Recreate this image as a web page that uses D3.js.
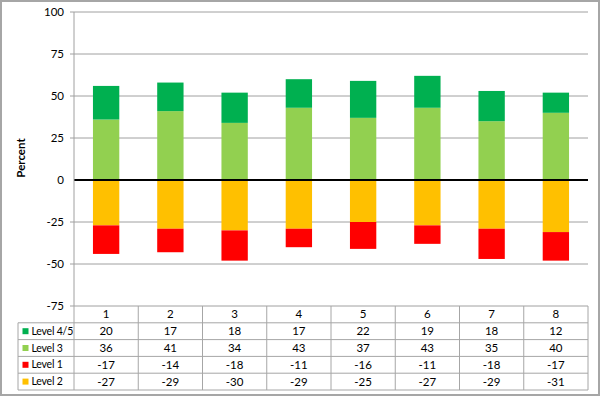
<!DOCTYPE html>
<html>
<head>
<meta charset="utf-8">
<script src="https://cdn.jsdelivr.net/npm/d3@7"></script>
<style>
  body { margin: 0; background: #fff; }
  svg text { font-family: Lato, "Noto Sans", sans-serif; fill: #000; }
</style>
</head>
<body>
<div id="chart"></div>
<script>
const categories = ["1", "2", "3", "4", "5", "6", "7", "8"];
const level45 = [20, 17, 18, 17, 22, 19, 18, 12];
const level3 = [36, 41, 34, 43, 37, 43, 35, 40];
const level1 = [-17, -14, -18, -11, -16, -11, -18, -17];
const level2 = [-27, -29, -30, -29, -25, -27, -29, -31];
const yTicks = [-75, -50, -25, 0, 25, 50, 75, 100];

const width = 600;
const height = 396;
const plotLeft = 74, plotRight = 588, plotTop = 12, plotBottom = 306;
const rowH = 16.8;

const series = [
    { name: "Level 4/5", values: level45, color: "#00B050" },
    { name: "Level 3", values: level3, color: "#92D050" },
    { name: "Level 1", values: level1, color: "#FF0000" },
    { name: "Level 2", values: level2, color: "#FFC000" }
];

const svg = d3.select("#chart").append("svg")
    .attr("width", width)
    .attr("height", height);

// outer frame
svg.append("rect")
    .attr("x", 1).attr("y", 1)
    .attr("width", width - 2).attr("height", height - 2)
    .attr("fill", "#fff").attr("stroke", "#a6a6a6").attr("stroke-width", 2);

const x = d3.scaleBand().domain(categories).range([plotLeft, plotRight]);
const y = d3.scaleLinear().domain([-75, 100]).range([plotBottom, plotTop]);

// gridlines + tick marks
svg.append("g").selectAll("line")
    .data(yTicks.filter(t => t !== 0))
    .enter().append("line")
    .attr("x1", plotLeft - 4).attr("x2", plotRight)
    .attr("y1", d => y(d)).attr("y2", d => y(d))
    .attr("stroke", "#a0a0a0").attr("stroke-width", 1);

// y tick labels
svg.append("g").selectAll("text")
    .data(yTicks)
    .enter().append("text")
    .attr("x", plotLeft - 10)
    .attr("y", d => y(d))
    .attr("dy", "0.35em")
    .attr("text-anchor", "end")
    .style("font-size", "11.5px")
    .text(d => d);

// axis title
svg.append("text")
    .attr("transform", `translate(25, ${(plotTop + plotBottom) / 2 - 1}) rotate(-90)`)
    .attr("text-anchor", "middle")
    .style("font-size", "11.5px")
    .style("font-weight", "bold")
    .text("Percent");

// stacked bars
const barW = x.bandwidth() * 0.41;
const bars = svg.append("g");
categories.forEach((c, i) => {
    const cx = x(c) + x.bandwidth() / 2;
    const segs = [
        { y0: 0, y1: level3[i], color: "#92D050" },
        { y0: level3[i], y1: level3[i] + level45[i], color: "#00B050" },
        { y0: 0, y1: level2[i], color: "#FFC000" },
        { y0: level2[i], y1: level2[i] + level1[i], color: "#FF0000" }
    ];
    bars.selectAll(null)
        .data(segs)
        .enter().append("rect")
        .attr("x", cx - barW / 2)
        .attr("width", barW)
        .attr("y", d => y(Math.max(d.y0, d.y1)))
        .attr("height", d => Math.abs(y(d.y0) - y(d.y1)))
        .attr("fill", d => d.color);
});

// zero line
svg.append("line")
    .attr("x1", plotLeft).attr("x2", plotRight)
    .attr("y1", y(0)).attr("y2", y(0))
    .attr("stroke", "#000").attr("stroke-width", 2);

// data table
const tableLeft = 18;
const table = svg.append("g");
const gridColor = "#a6a6a6";

// header row labels
table.selectAll(".hdr")
    .data(categories)
    .enter().append("text")
    .attr("x", d => x(d) + x.bandwidth() / 2)
    .attr("y", plotBottom + rowH / 2)
    .attr("dy", "0.35em")
    .attr("text-anchor", "middle")
    .style("font-size", "11.5px")
    .text(d => d);

series.forEach((s, r) => {
    const ry = plotBottom + rowH * (r + 1);
    table.append("rect")
        .attr("x", tableLeft + 4.5).attr("y", ry + rowH / 2 - 3)
        .attr("width", 6).attr("height", 6)
        .attr("fill", s.color);
    table.append("text")
        .attr("x", tableLeft + 13.5).attr("y", ry + rowH / 2)
        .attr("dy", "0.35em")
        .style("font-size", "10.5px")
        .style("letter-spacing", "-0.2px")
        .text(s.name);
    table.selectAll(null)
        .data(s.values)
        .enter().append("text")
        .attr("x", (d, i) => x(categories[i]) + x.bandwidth() / 2)
        .attr("y", ry + rowH / 2)
        .attr("dy", "0.35em")
        .attr("text-anchor", "middle")
        .style("font-size", "11.5px")
        .text(d => d);
});

// table horizontal lines
const hLines = d3.range(1, 6).map(r => plotBottom + rowH * r);
table.selectAll(".hl")
    .data(hLines)
    .enter().append("line")
    .attr("x1", tableLeft).attr("x2", plotRight)
    .attr("y1", d => d).attr("y2", d => d)
    .attr("stroke", gridColor);

// table vertical lines
const colEdges = categories.map(c => x(c)).concat([plotRight]);
table.selectAll(".vl")
    .data(colEdges)
    .enter().append("line")
    .attr("x1", d => d).attr("x2", d => d)
    .attr("y1", plotBottom).attr("y2", plotBottom + rowH * 5)
    .attr("stroke", gridColor);
table.append("line")
    .attr("x1", tableLeft).attr("x2", tableLeft)
    .attr("y1", plotBottom + rowH).attr("y2", plotBottom + rowH * 5)
    .attr("stroke", gridColor);

// y axis line
svg.append("line")
    .attr("x1", plotLeft).attr("x2", plotLeft)
    .attr("y1", plotTop).attr("y2", plotBottom)
    .attr("stroke", "#a0a0a0");
</script>
</body>
</html>
